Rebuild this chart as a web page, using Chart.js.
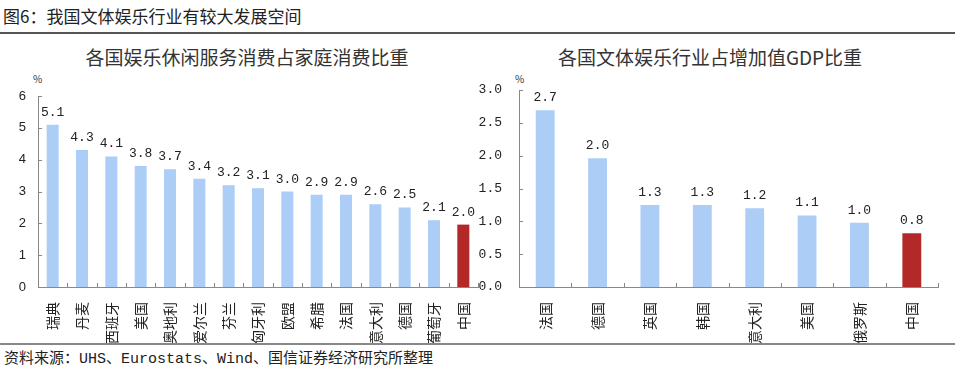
<!DOCTYPE html>
<html>
<head>
<meta charset="utf-8">
<script src="https://cdn.jsdelivr.net/npm/chart.js@4/dist/chart.umd.min.js"></script>
<style>
  body { margin: 0; background: #fff; width: 960px; height: 373px; position: relative; overflow: hidden; font-family: "Noto Sans CJK SC", sans-serif; }
  #pageTitle { position: absolute; left: 3px; top: 3px; font-size: 17px; color: #222; }
  #topLine { position: absolute; left: 0; top: 32px; width: 955px; height: 2px; background: #555; }
  #botLine { position: absolute; left: 0; top: 343px; width: 955px; height: 2px; background: #888; }
  #source { position: absolute; left: 4px; top: 346px; font-size: 15px; color: #222; font-family: "Liberation Mono", "Noto Sans CJK SC", monospace; }
  .ctitle { position: absolute; top: 43px; font-size: 19px; color: #333; text-align: center; width: 480px; }
  .pct { position: absolute; top: 71px; font-size: 10px; color: #333; }
  canvas { position: absolute; top: 84px; }
</style>
</head>
<body>
<div id="pageTitle">图6：我国文体娱乐行业有较大发展空间</div>
<div id="topLine"></div>
<div class="ctitle" style="left:7px">各国娱乐休闲服务消费占家庭消费比重</div>
<div class="ctitle" style="left:470px">各国文体娱乐行业占增加值GDP比重</div>
<div class="pct" style="left:33px">%</div>
<div class="pct" style="left:515px">%</div>
<canvas id="leftChart" width="482" height="262" style="left:0"></canvas>
<canvas id="rightChart" width="500" height="262" style="left:460px"></canvas>
<div id="botLine"></div>
<div id="source">资料来源：UHS、Eurostats、Wind、国信证券经济研究所整理</div>
<script>
const leftCats = ['瑞典','丹麦','西班牙','美国','奥地利','爱尔兰','芬兰','匈牙利','欧盟','希腊','法国','意大利','德国','葡萄牙','中国'];
const leftVals = [5.1, 4.3, 4.1, 3.8, 3.7, 3.4, 3.2, 3.1, 3.0, 2.9, 2.9, 2.6, 2.5, 2.1, 1.96];
const leftTicks = [0, 1, 2, 3, 4, 5, 6];

const rightCats = ['法国','德国','英国','韩国','意大利','美国','俄罗斯','中国'];
const rightVals = [2.69, 1.96, 1.25, 1.25, 1.2, 1.09, 0.98, 0.82];
const rightTicks = [0, 0.5, 1.0, 1.5, 2.0, 2.5, 3.0];

const BLUE = '#abcdf6', RED = '#b3292a', AXIS = '#888';

// small inward tick marks + value labels on top of bars
const decor = {
  id: 'decor',
  afterDatasetsDraw(chart) {
    const ctx = chart.ctx, area = chart.chartArea;
    const xs = chart.scales.x, ys = chart.scales.y;
    ctx.save();
    ctx.strokeStyle = AXIS;
    ctx.lineWidth = 1;
    ctx.beginPath();
    ys.ticks.forEach((t, i) => {
      const y = Math.round(ys.getPixelForTick(i)) + 0.5;
      ctx.moveTo(area.left, y); ctx.lineTo(area.left + 4, y);
    });
    const n = xs.ticks.length;
    for (let i = 1; i <= n; i++) {
      let x = i < n ? (xs.getPixelForTick(i - 1) + xs.getPixelForTick(i)) / 2 : area.right;
      x = Math.round(x) + 0.5;
      ctx.moveTo(x, area.bottom); ctx.lineTo(x, area.bottom - 4);
    }
    ctx.stroke();

    ctx.fillStyle = '#222';
    ctx.font = '13px "Liberation Mono", monospace';
    ctx.textAlign = 'center';
    ctx.textBaseline = 'alphabetic';
    const vals = chart.data.datasets[0].data;
    chart.getDatasetMeta(0).data.forEach((bar, i) => {
      ctx.fillText(vals[i].toFixed(1), bar.x, bar.y - 9);
    });
    ctx.restore();
  }
};

function makeChart(id, cats, vals, ticks, opt) {
  return new Chart(document.getElementById(id), {
    type: 'bar',
    data: {
      labels: cats,
      datasets: [{
        data: vals,
        backgroundColor: cats.map(c => c === '中国' ? RED : BLUE),
        barPercentage: opt.barPct,
        categoryPercentage: 1
      }]
    },
    options: {
      responsive: false,
      animation: false,
      devicePixelRatio: 1,
      layout: { padding: { top: opt.padTop, right: opt.padRight, left: 0, bottom: 0 } },
      plugins: { legend: { display: false }, tooltip: { enabled: false } },
      scales: {
        x: {
          grid: { display: false },
          border: { display: true, color: AXIS, width: 1 },
          ticks: {
            autoSkip: false, minRotation: 90, maxRotation: 90, padding: 7,
            color: '#222', font: { family: '"Noto Sans CJK SC"', size: 14 }
          },
          afterFit(s) { s.height = 59; s.paddingLeft = 0; s.paddingRight = 0; }
        },
        y: {
          min: 0, max: ticks[ticks.length - 1],
          grid: { display: false },
          border: { display: true, color: AXIS, width: 1 },
          afterBuildTicks(s) { s.ticks = ticks.map(v => ({ value: v })); },
          ticks: {
            padding: opt.tickPad, color: '#222',
            font: { family: opt.tickFont, size: 13 },
            callback: v => opt.fmt(v)
          },
          afterFit(s) { s.width = opt.axisW; s.paddingTop = 0; s.paddingBottom = 0; }
        }
      }
    },
    plugins: [decor]
  });
}

makeChart('leftChart', leftCats, leftVals, leftTicks, {
  barPct: 0.41, padTop: 12, padRight: 4, axisW: 38, tickPad: 4,
  tickFont: '"Liberation Sans"', fmt: v => String(v)
});
makeChart('rightChart', rightCats, rightVals, rightTicks, {
  barPct: 0.36, padTop: 6, padRight: 22, axisW: 59, tickPad: 9,
  tickFont: '"Liberation Mono"', fmt: v => v.toFixed(1)
});
</script>
</body>
</html>
